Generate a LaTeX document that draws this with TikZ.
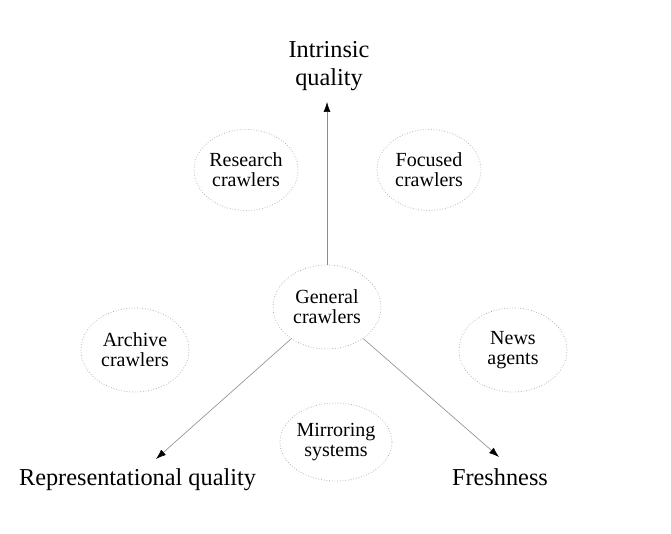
\documentclass[tikz,border=0pt]{standalone}
\usepackage{fontspec}
\setmainfont{Liberation Serif}
\usetikzlibrary{shapes.geometric,arrows.meta}
\tikzset{
  crawler/.style={ellipse, draw=black!35, dotted, line width=0.7pt,
    minimum width=108pt, minimum height=84pt, inner sep=0pt,
    align=center, font=\fontsize{20}{20}\selectfont},
  axislabel/.style={align=center, inner sep=0pt, font=\fontsize{24.3}{28}\selectfont},
  axis/.style={draw=black!45, line width=0.6pt,
    -{Latex[black,length=10pt,width=7pt]}}
}
\begin{document}
\begin{tikzpicture}[x=1pt,y=-1pt]
\useasboundingbox[fill=white] (0,0) rectangle (671,534);
% axis labels
\node[axislabel] (intr) at (329,66) {Intrinsic\\quality};
\node[axislabel, anchor=base] (rep) at (137.5,485) {Representational quality};
\node[axislabel, anchor=base] (fresh) at (500,485) {Freshness};
% crawler ellipses
\node[crawler] (gen) at (327,307) {General\\crawlers};
\node[crawler, minimum width=104pt, minimum height=81pt] (res) at (246,170) {Research\\crawlers};
\node[crawler, minimum width=104pt, minimum height=81pt] (foc) at (429,170) {Focused\\crawlers};
\node[crawler] (arc) at (135,350) {Archive\\crawlers};
\node[crawler] (news) at (513,350) {News\\agents};
\node[crawler, minimum width=112pt, minimum height=78pt] (mir) at (336,442) {Mirroring\\systems};
% arrow tips
\coordinate (tipI) at (327,102);
\coordinate (tipR) at (156,459);
\coordinate (tipF) at (499,457);
\draw[axis] (gen) -- (tipI);
\draw[axis] (gen) -- (tipR);
\draw[axis] (gen) -- (tipF);
\end{tikzpicture}
\end{document}
